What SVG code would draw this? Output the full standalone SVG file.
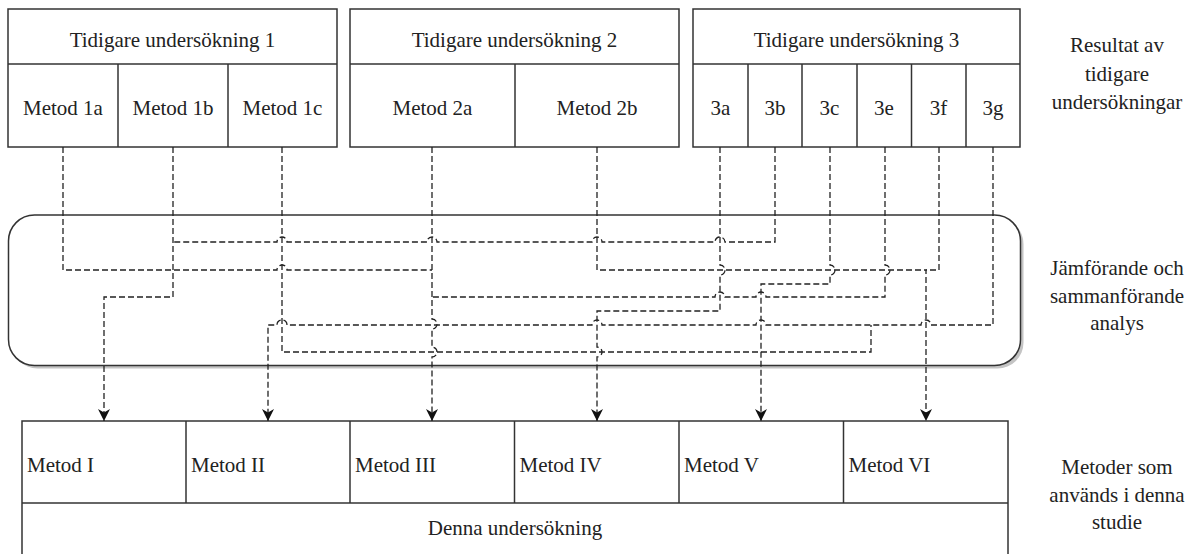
<svg xmlns="http://www.w3.org/2000/svg" width="1190" height="554" viewBox="0 0 1190 554">
<style>
.box{fill:#fff;stroke:#333;stroke-width:1.5}
.ln{stroke:#333;stroke-width:1.5;fill:none}
.t{font-family:"Liberation Serif","Times New Roman",serif;font-size:21px;fill:#222}
.c{text-anchor:middle}
.e{fill:none;stroke:#222;stroke-width:1.3;stroke-dasharray:6 3}
.ea{fill:none;stroke:#222;stroke-width:1.3;stroke-dasharray:6 3;marker-end:url(#arr)}
</style>
<defs>
<marker id="arr" markerUnits="userSpaceOnUse" markerWidth="14" markerHeight="14" viewBox="0 0 14 14" refX="13" refY="7" orient="auto">
<path d="M1,1 L13,7 L1,13 L4.5,7 Z" fill="#111"/>
</marker>
</defs>
<rect width="1190" height="554" fill="#fff"/>

<g id="u1">
<rect class="box" x="8" y="9" width="329" height="138"/>
<line class="ln" x1="8" y1="64" x2="337" y2="64"/>
<line class="ln" x1="118" y1="64" x2="118" y2="147"/>
<line class="ln" x1="228" y1="64" x2="228" y2="147"/>
<text class="t c" x="172.5" y="46.5">Tidigare undersökning 1</text>
<text class="t c" x="63" y="115">Metod 1a</text>
<text class="t c" x="173" y="115">Metod 1b</text>
<text class="t c" x="282.5" y="115">Metod 1c</text>
</g>
<g id="u2">
<rect class="box" x="350" y="9" width="329" height="138"/>
<line class="ln" x1="350" y1="64" x2="679" y2="64"/>
<line class="ln" x1="515" y1="64" x2="515" y2="147"/>
<text class="t c" x="514.5" y="46.5">Tidigare undersökning 2</text>
<text class="t c" x="432.5" y="115">Metod 2a</text>
<text class="t c" x="597" y="115">Metod 2b</text>
</g>
<g id="u3">
<rect class="box" x="693" y="9" width="327" height="138"/>
<line class="ln" x1="693" y1="64" x2="1020" y2="64"/>
<line class="ln" x1="748" y1="64" x2="748" y2="147"/>
<line class="ln" x1="802" y1="64" x2="802" y2="147"/>
<line class="ln" x1="857" y1="64" x2="857" y2="147"/>
<line class="ln" x1="911.5" y1="64" x2="911.5" y2="147"/>
<line class="ln" x1="966" y1="64" x2="966" y2="147"/>
<text class="t c" x="856.5" y="46.5">Tidigare undersökning 3</text>
<text class="t c" x="720.5" y="115">3a</text>
<text class="t c" x="775" y="115">3b</text>
<text class="t c" x="829.5" y="115">3c</text>
<text class="t c" x="884" y="115">3e</text>
<text class="t c" x="938.5" y="115">3f</text>
<text class="t c" x="993" y="115">3g</text>
</g>
<g id="lbl-resultat">
<text class="t c" x="1117" y="52">Resultat av</text>
<text class="t c" x="1117" y="81">tidigare</text>
<text class="t c" x="1117" y="109">undersökningar</text>
</g>

<g id="analys">
<rect x="11.5" y="218" width="1012" height="150.5" rx="26" fill="#c4c4c4"/>
<rect x="8.5" y="215" width="1012" height="150.5" rx="26" fill="#fff" stroke="#333" stroke-width="1.5"/>
</g>
<g id="lbl-analys">
<text class="t c" x="1117" y="275">Jämförande och</text>
<text class="t c" x="1117" y="303">sammanförande</text>
<text class="t c" x="1117" y="330">analys</text>
</g>

<g id="denna">
<rect class="box" x="22" y="421" width="986" height="160"/>
<line class="ln" x1="22" y1="503" x2="1008" y2="503"/>
<line class="ln" x1="186" y1="421" x2="186" y2="503"/>
<line class="ln" x1="350" y1="421" x2="350" y2="503"/>
<line class="ln" x1="514.5" y1="421" x2="514.5" y2="503"/>
<line class="ln" x1="679" y1="421" x2="679" y2="503"/>
<line class="ln" x1="843.5" y1="421" x2="843.5" y2="503"/>
<text class="t" x="27" y="471.5">Metod I</text>
<text class="t" x="191" y="471.5">Metod II</text>
<text class="t" x="355" y="471.5">Metod III</text>
<text class="t" x="519.5" y="471.5">Metod IV</text>
<text class="t" x="684" y="471.5">Metod V</text>
<text class="t" x="848.5" y="471.5">Metod VI</text>
<text class="t c" x="515" y="535">Denna undersökning</text>
</g>
<g id="lbl-metoder">
<text class="t c" x="1117" y="474">Metoder som</text>
<text class="t c" x="1117" y="502">används i denna</text>
<text class="t c" x="1117" y="529">studie</text>
</g>

<g id="connectors">
<path class="e" d="M63,147 V270 H277 A5,5 0 0 1 287,270 H432"/>
<path class="ea" d="M173,147 V297 H104 V421"/>
<path class="e" d="M282,147 V352 H871 V325"/>
<path class="ea" d="M432,147 V319 A5,5 0 0 1 432,329 V347 A5,5 0 0 1 432,357 V421"/>
<path class="ea" d="M597,147 V270 H926 V421"/>
<path class="ea" d="M720,147 V265 A5,5 0 0 1 720,275 V311 H597 V347 A5,5 0 0 1 597,357 V421"/>
<path class="e" d="M775,147 V242 H725 A5,5 0 0 0 715,242 H602 A5,5 0 0 0 592,242 H437 A5,5 0 0 0 427,242 H287 A5,5 0 0 0 277,242 H173"/>
<path class="ea" d="M830,147 V265 A5,5 0 0 1 830,275 V284 H761 V421"/>
<path class="e" d="M885,147 V265 A5,5 0 0 1 885,275 V297 H766 A5,5 0 0 0 756,297 H725 A5,5 0 0 0 715,297 H432"/>
<path class="e" d="M939,147 V270 H926"/>
<path class="ea" d="M993,147 V325 H931 A5,5 0 0 0 921,325 H766 A5,5 0 0 0 756,325 H602 A5,5 0 0 0 592,325 H287 A5,5 0 0 0 277,325 H268 V421"/>
</g>
</svg>
